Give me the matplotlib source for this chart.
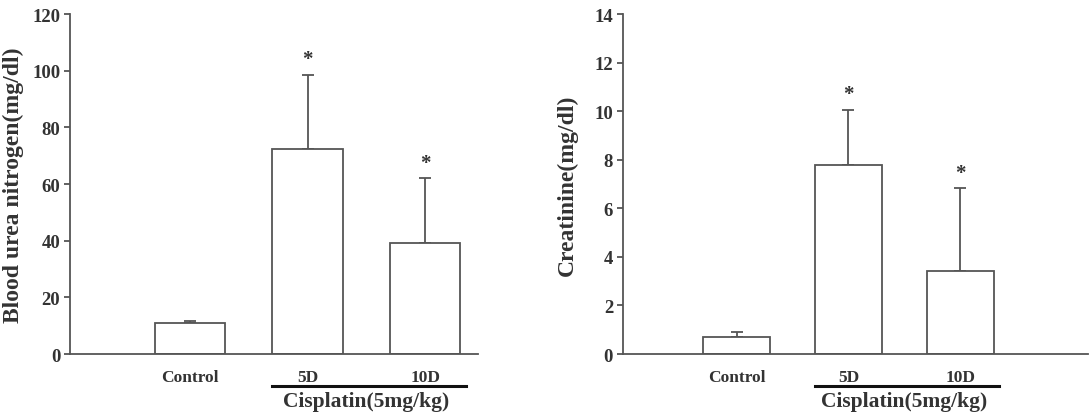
import matplotlib
matplotlib.use("Agg")
import matplotlib.pyplot as plt

# data
groups = ["Control", "5D", "10D"]
bun_mean = [10.9, 72.4, 39.3]
bun_err = [0.7, 26.2, 22.7]
cre_mean = [0.68, 7.8, 3.43]
cre_err = [0.21, 2.25, 3.4]
significant = [False, True, True]
group_label = "Cisplatin(5mg/kg)"

plt.rcParams['font.family'] = ['Liberation Serif', 'DejaVu Serif']
plt.rcParams['font.weight'] = 'bold'

grey = "#555555"
fig = plt.figure(figsize=(10.91, 4.14), dpi=100)


def panel(rect, means, errs, ylim, step, ylabel, xlim, labelpad):
    ax = fig.add_axes(rect)
    x = list(range(len(groups)))
    ax.bar(x, means, width=0.6, color="white", edgecolor=grey, linewidth=1.3, zorder=2)
    ax.errorbar(x, means, yerr=[[0] * len(errs), errs], fmt="none", ecolor=grey,
                elinewidth=1.3, capsize=4, capthick=1.3, zorder=1)
    for xi, m, e, s in zip(x, means, errs, significant):
        if s:
            ax.annotate("*", (xi, m + e), xytext=(0, 4), textcoords="offset points",
                        ha="center", va="bottom", fontsize=15, color="#333333")
    ax.set_xlim(*xlim)
    ax.set_ylim(*ylim)
    ax.set_yticks(range(ylim[0], ylim[1] + 1, step))
    ax.set_xticks(x)
    ax.set_xticklabels(groups, fontsize=12.5, fontweight="bold", color="#333333")
    ax.tick_params(axis="x", length=0, pad=11)
    ax.tick_params(axis="y", length=4, width=1.3, color=grey, labelsize=13.5,
                   labelcolor="#333333", pad=3)
    for lab in ax.get_yticklabels():
        lab.set_fontweight("bold")
    for side in ("top", "right"):
        ax.spines[side].set_visible(False)
    for side in ("left", "bottom"):
        ax.spines[side].set_color(grey)
        ax.spines[side].set_linewidth(1.3)
    ax.set_ylabel(ylabel, fontsize=17, fontweight="bold", color="#333333", labelpad=labelpad)
    # bracket line under the cisplatin groups
    trans = ax.get_xaxis_transform()
    ax.plot([1 - 0.3, 2 + 0.35], [-0.095, -0.095], color="#111111", lw=2.2,
            transform=trans, clip_on=False)
    ax.text(1.5, -0.11, group_label, transform=trans, ha="center", va="top",
            fontsize=15.5, fontweight="bold", color="#333333")
    return ax


panel([0.0642, 0.1425, 0.374, 0.821], bun_mean, bun_err, (0, 120), 20,
      "Blood urea nitrogen(mg/dl)", (-1.02, 2.45), 6)
panel([0.5708, 0.1425, 0.426, 0.821], cre_mean, cre_err, (0, 14), 2,
      "Creatinine(mg/dl)", (-1.02, 3.14), 12)

fig.savefig("out.png", dpi=100)
